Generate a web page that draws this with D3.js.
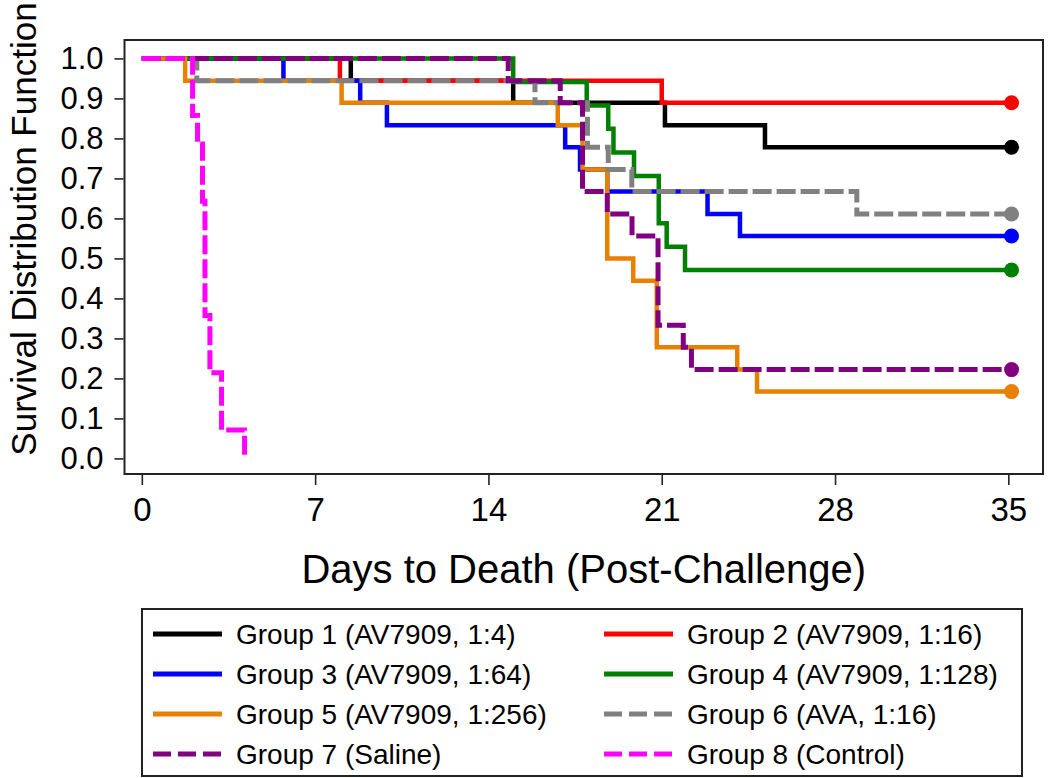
<!DOCTYPE html>
<html lang="en">
<head>
  <meta charset="UTF-8" />
  <title>Survival Distribution Function</title>
  <script src="https://d3js.org/d3.v7.min.js"></script>
  <style>
    body {
      margin: 0;
      background: #fff;
      font-family: "Liberation Sans", Arial, sans-serif;
    }
    .tick-label {
      fill: #000;
    }
  </style>
</head>
<body>
  <div id="chart"></div>

  <script>
    // Kaplan-Meier steps: [day, survival]
    const group1 = [[0, 1], [8.44, 0.944], [15.0, 0.889], [21.13, 0.833], [25.17, 0.778], [35.13, 0.778]];
    const group2 = [[0, 1], [8.0, 0.944], [21.0, 0.889], [35.13, 0.889]];
    const group3 = [[0, 1], [5.72, 0.944], [8.82, 0.889], [9.9, 0.833], [17.1, 0.778], [17.7, 0.722],
                    [18.8, 0.667], [22.85, 0.611], [24.16, 0.556], [35.13, 0.556]];
    const group4 = [[0, 1], [15.0, 0.941], [17.97, 0.882], [18.84, 0.824], [19.05, 0.765], [19.88, 0.706],
                    [20.88, 0.588], [21.2, 0.529], [21.94, 0.471], [35.13, 0.471]];
    const group5 = [[0, 1], [1.75, 0.944], [8.07, 0.889], [16.8, 0.833], [17.8, 0.722], [18.8, 0.5],
                    [19.85, 0.444], [20.8, 0.278], [24.05, 0.222], [24.85, 0.167], [35.13, 0.167]];
    const group6 = [[0, 1], [2.22, 0.944], [15.88, 0.889], [18.0, 0.778], [18.84, 0.722], [19.79, 0.667],
                    [28.88, 0.611], [35.13, 0.611]];
    const group7 = [[0, 1], [14.8, 0.944], [16.9, 0.889], [17.8, 0.667], [18.8, 0.611], [19.8, 0.556],
                    [20.85, 0.333], [21.87, 0.278], [22.2, 0.222], [35.13, 0.222]];
    const group8 = [[0, 1], [2.05, 0.857], [2.25, 0.786], [2.45, 0.643], [2.55, 0.357], [2.75, 0.214],
                    [3.22, 0.071], [4.15, 0]];

    const groupNames = [
      "Group 1 (AV7909, 1:4)", "Group 2 (AV7909, 1:16)",
      "Group 3 (AV7909, 1:64)", "Group 4 (AV7909, 1:128)",
      "Group 5 (AV7909, 1:256)", "Group 6 (AVA, 1:16)",
      "Group 7 (Saline)", "Group 8 (Control)"
    ];
    const groupData = [group1, group2, group3, group4, group5, group6, group7, group8];
    const groupColors = ["#000000", "#ff0000", "#0000ff", "#008000", "#e88000", "#808080", "#800080", "#ff00ff"];
    const groupDashed = [false, false, false, false, false, true, true, true];
    const groupEndDot = [true, true, true, true, true, true, true, false];

    const xTicks = [0, 7, 14, 21, 28, 35];
    const yTicks = [0, 0.1, 0.2, 0.3, 0.4, 0.5, 0.6, 0.7, 0.8, 0.9, 1.0];

    const width = 1050;
    const height = 778;
    const plot = { left: 124.5, right: 1043, top: 40, bottom: 474 };

    const svg = d3.select("#chart")
                  .append("svg")
                    .attr("width", width)
                    .attr("height", height);

    const x = d3.scaleLinear()
                .domain([-0.7, 36.4])
                .range([plot.left, plot.right]);

    const y = d3.scaleLinear()
                .domain([-0.039, 1.046])
                .range([plot.bottom, plot.top]);

    // axes
    const xAxis = d3.axisBottom(x)
                    .tickValues(xTicks)
                    .tickSize(10)
                    .tickPadding(13)
                    .tickFormat(d3.format("d"));

    const yAxis = d3.axisLeft(y)
                    .tickValues(yTicks)
                    .tickSize(9)
                    .tickPadding(11)
                    .tickFormat(d3.format(".1f"));

    const gx = svg.append("g")
                  .attr("transform", `translate(0, ${plot.bottom + 1})`)
                  .call(xAxis);
    gx.select(".domain").remove();
    gx.selectAll(".tick line").attr("stroke", "#222").attr("stroke-width", 1.6);
    gx.selectAll(".tick text")
      .attr("class", "tick-label")
      .attr("font-family", "'Liberation Sans', Arial, sans-serif")
      .attr("font-size", 33);

    const gy = svg.append("g")
                  .attr("transform", `translate(${plot.left - 1}, 0)`)
                  .call(yAxis);
    gy.select(".domain").remove();
    gy.selectAll(".tick line").attr("stroke", "#222").attr("stroke-width", 1.6);
    gy.selectAll(".tick text")
      .attr("class", "tick-label")
      .attr("font-family", "'Liberation Sans', Arial, sans-serif")
      .attr("font-size", 31);

    // curves: solid ones first, dashed ones on top
    const line = d3.line()
                   .x(d => x(d[0]))
                   .y(d => y(d[1]))
                   .curve(d3.curveStepAfter);

    const order = [0, 1, 2, 3, 4, 5, 6, 7];
    const curves = svg.append("g");

    order.forEach(i => {
      curves.append("path")
            .attr("d", line(groupData[i]))
            .attr("fill", "none")
            .attr("stroke", groupColors[i])
            .attr("stroke-width", groupDashed[i] ? 5 : 4.5)
            .attr("stroke-dasharray", groupDashed[i] ? "19,5" : null);
    });

    order.forEach(i => {
      if (!groupEndDot[i]) return;
      const last = groupData[i][groupData[i].length - 1];
      curves.append("circle")
            .attr("cx", x(last[0]))
            .attr("cy", y(last[1]))
            .attr("r", 7.5)
            .attr("fill", groupColors[i]);
    });

    // frame
    svg.append("rect")
       .attr("x", plot.left)
       .attr("y", plot.top)
       .attr("width", plot.right - plot.left)
       .attr("height", plot.bottom - plot.top)
       .attr("fill", "none")
       .attr("stroke", "#222")
       .attr("stroke-width", 2);

    // axis titles
    svg.append("text")
       .attr("x", (plot.left + plot.right) / 2)
       .attr("y", 583)
       .attr("text-anchor", "middle")
       .attr("font-size", 40)
       .text("Days to Death (Post-Challenge)");

    svg.append("text")
       .attr("transform", "translate(36, 229) rotate(-90)")
       .attr("text-anchor", "middle")
       .attr("font-size", 35)
       .text("Survival Distribution Function");

    // legend
    const legend = svg.append("g");
    legend.append("rect")
          .attr("x", 142)
          .attr("y", 609)
          .attr("width", 880)
          .attr("height", 167)
          .attr("fill", "none")
          .attr("stroke", "#222")
          .attr("stroke-width", 2);

    const colX = [153, 604];
    const rowY0 = 634;
    const rowStep = 40;

    groupNames.forEach((name, i) => {
      const cx = colX[i % 2];
      const cy = rowY0 + Math.floor(i / 2) * rowStep;
      legend.append("line")
            .attr("x1", cx)
            .attr("x2", cx + 69)
            .attr("y1", cy)
            .attr("y2", cy)
            .attr("stroke", groupColors[i])
            .attr("stroke-width", 5)
            .attr("stroke-dasharray", groupDashed[i] ? "18,7" : null);
      legend.append("text")
            .attr("x", cx + 83)
            .attr("y", cy)
            .attr("dy", "0.35em")
            .attr("font-size", 28)
            .text(name);
    });
  </script>
</body>
</html>
